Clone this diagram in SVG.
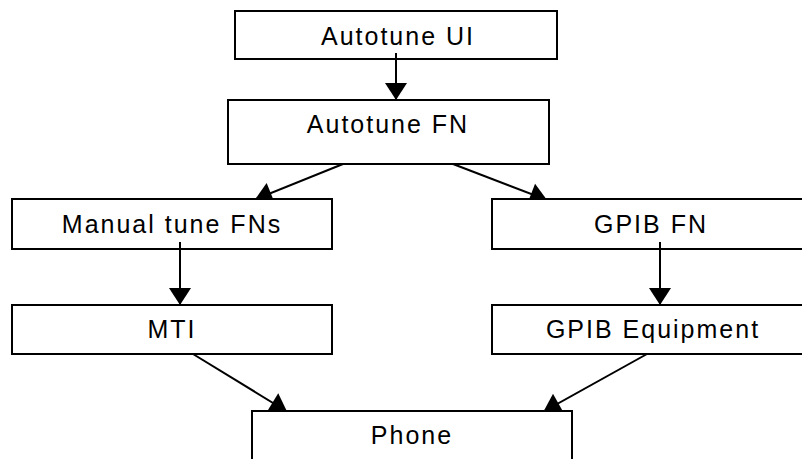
<svg xmlns="http://www.w3.org/2000/svg" width="802" height="459" viewBox="0 0 802 459">
<style>
.box{fill:#fff;stroke:#000;stroke-width:2}
.lbl{font-family:"Liberation Sans",Arial,sans-serif;font-size:25px;letter-spacing:2px;text-anchor:middle;fill:#000}
.edge{stroke:#000;stroke-width:2;fill:none;marker-end:url(#arr)}
</style>
<defs>
<marker id="arr" markerUnits="userSpaceOnUse" markerWidth="17" markerHeight="22" refX="17" refY="11" orient="auto" overflow="visible">
<path d="M0,0 L17,11 L0,22 z" fill="#000"/>
</marker>
<clipPath id="clipTop"><rect x="0" y="0" width="802" height="199"/></clipPath>
<clipPath id="clipBot"><rect x="0" y="0" width="802" height="411"/></clipPath>
</defs>
<rect width="802" height="459" fill="#fff"/>
<g id="autotune-ui"><rect class="box" x="235" y="11" width="322" height="48"/><text class="lbl" x="398" y="45">Autotune UI</text></g>
<g id="autotune-fn"><rect class="box" x="228" y="100" width="321" height="64"/><text class="lbl" x="388" y="133">Autotune FN</text></g>
<g id="manual-tune-fns"><rect class="box" x="12" y="199" width="320" height="50"/><text class="lbl" x="172" y="233">Manual tune FNs</text></g>
<g id="gpib-fn"><rect class="box" x="492" y="199" width="330" height="50"/><text class="lbl" x="651" y="233">GPIB FN</text></g>
<g id="mti"><rect class="box" x="12" y="305" width="320" height="49"/><text class="lbl" x="172" y="338">MTI</text></g>
<g id="gpib-equipment"><rect class="box" x="492" y="305" width="330" height="49"/><text class="lbl" x="653" y="338">GPIB Equipment</text></g>
<g id="phone"><rect class="box" x="252" y="411" width="320" height="60"/><text class="lbl" x="412" y="444">Phone</text></g>
<g id="connectors">
<path class="edge" d="M396,53 L396,100"/>
<path class="edge" d="M343,164 L255,199.5" clip-path="url(#clipTop)"/>
<path class="edge" d="M453,164 L547,200" clip-path="url(#clipTop)"/>
<path class="edge" d="M180,242 L180,305"/>
<path class="edge" d="M660,242 L660,305"/>
<path class="edge" d="M193,354 L287,411.5" clip-path="url(#clipBot)"/>
<path class="edge" d="M647,354 L543.5,411.5" clip-path="url(#clipBot)"/>
</g>
</svg>
